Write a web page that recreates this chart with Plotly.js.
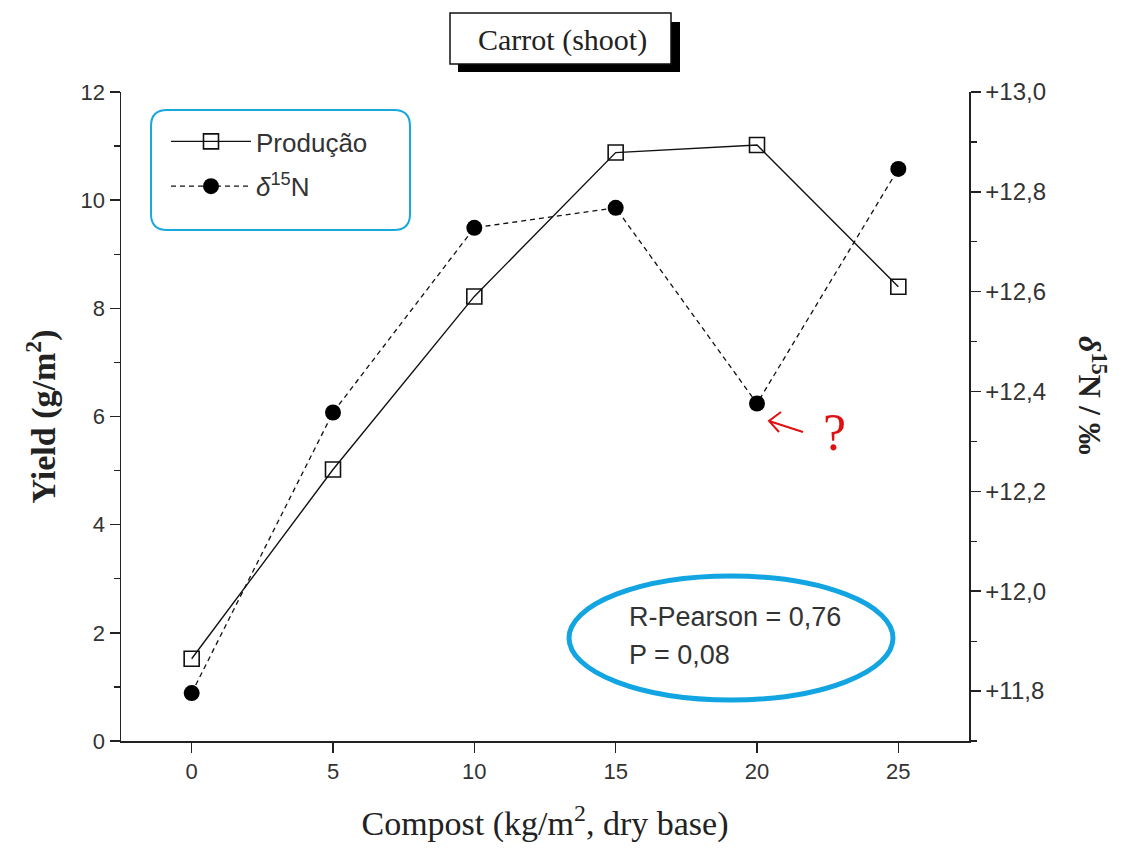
<!DOCTYPE html>
<html><head><meta charset="utf-8">
<script src="https://cdn.plot.ly/plotly-3.0.1.min.js"></script>
<style>body{margin:0;background:#fff}#c{width:1124px;height:848px}</style>
</head><body><div id="c"></div>
<script>
const compost = [0, 5, 10, 15, 20, 25];
const producao = [1.52, 5.02, 8.22, 10.88, 11.02, 8.40];
const delta15N = [11.796, 12.358, 12.728, 12.768, 12.376, 12.846];
const seriesNames = ["Produção", "<i>δ</i><sup>15</sup>N"];

// plot area in pixels
const L = 121, R = 969, T = 92, B = 741;
const px = x => (x - L) / (R - L);
const py = y => (B - y) / (B - T);

function roundRect(x0, y0, x1, y1, r) {
  const f = (x, y) => px(x) + ',' + py(y);
  return 'M' + f(x0 + r, y0) + ' L' + f(x1 - r, y0) + ' Q' + f(x1, y0) + ' ' + f(x1, y0 + r) +
    ' L' + f(x1, y1 - r) + ' Q' + f(x1, y1) + ' ' + f(x1 - r, y1) +
    ' L' + f(x0 + r, y1) + ' Q' + f(x0, y1) + ' ' + f(x0, y1 - r) +
    ' L' + f(x0, y0 + r) + ' Q' + f(x0, y0) + ' ' + f(x0 + r, y0) + ' Z';
}
function pathPx(pts) {
  return pts.map((p, i) => (p[2] ? 'M' : (i === 0 ? 'M' : 'L')) + px(p[0]) + ',' + py(p[1])).join(' ');
}

const traces = [
  {x: compost, y: producao, name: seriesNames[0], type: 'scatter', mode: 'lines+markers',
   legendgroup: 'a',
   line: {color: '#111', width: 1.4},
   marker: {symbol: 'square-open', size: 15, color: '#111', line: {width: 1.6, color: '#111'}}},
  {x: compost, y: delta15N, name: seriesNames[1], type: 'scatter', mode: 'lines+markers',
   yaxis: 'y2', legendgroup: 'b',
   line: {color: '#111', width: 1.3, dash: '5px,4px'},
   marker: {symbol: 'circle', size: 16, color: '#000'}}
];

const sans = 'Liberation Sans, Arial, sans-serif';
const serif = 'Liberation Serif, Times New Roman, serif';
const tickFont = {family: sans, size: 22, color: '#333'};

const layout = {
  width: 1124, height: 848,
  margin: {l: L, r: 1124 - R, t: T, b: 848 - B},
  paper_bgcolor: '#fff', plot_bgcolor: '#fff',
  showlegend: true,
  legend: {x: px(166), y: py(118), xanchor: 'left', yanchor: 'top', itemwidth: 80,
    bgcolor: 'rgba(0,0,0,0)', borderwidth: 0, traceorder: 'grouped', tracegroupgap: 8,
    font: {family: sans, size: 26, color: '#333'}},
  xaxis: {range: [-2.5, 27.5], tickvals: compost, ticks: 'outside', ticklen: 10, tickwidth: 1.5,
    tickcolor: '#222', showline: true, linecolor: '#222', linewidth: 1.5, showgrid: false,
    zeroline: false, tickfont: tickFont,
    title: {text: 'Compost (kg/m<sup>2</sup>, dry base)', font: {family: serif, size: 34, color: '#222'}, standoff: 28}},
  xaxis2: {overlaying: 'x', side: 'top', matches: 'x', range: [-2.5, 27.5], tickvals: compost,
    ticks: 'inside', ticklen: 8, tickwidth: 1.5, tickcolor: '#222', showline: true, linecolor: '#222',
    linewidth: 1.5, showticklabels: false, showgrid: false, zeroline: false},
  yaxis: {range: [0, 12], dtick: 2, tick0: 0, ticks: 'outside', ticklen: 10, tickwidth: 1.5,
    tickcolor: '#222', showline: true, linecolor: '#222', linewidth: 1.5, showgrid: false,
    zeroline: false, tickfont: tickFont,
    minor: {dtick: 1, ticks: 'outside', ticklen: 6, tickcolor: '#222', tickwidth: 1.2, showgrid: false},
    title: {text: '<b>Yield (g/m<sup>2</sup>)</b>', font: {family: serif, size: 34, color: '#222'}, standoff: 14}},
  yaxis2: {overlaying: 'y', side: 'right', range: [11.7, 13.0], dtick: 0.2, tick0: 0,
    tickformat: '.1f', tickprefix: '+', ticks: 'outside', ticklen: 10, tickwidth: 1.5,
    tickcolor: '#222', showline: true, linecolor: '#222', linewidth: 1.5, showgrid: false,
    zeroline: false, tickfont: {family: sans, size: 24, color: '#333'},
    minor: {dtick: 0.1, ticks: 'outside', ticklen: 6, tickcolor: '#222', tickwidth: 1.2, showgrid: false}},
  separators: ',.',
  shapes: [
    {type: 'rect', xref: 'paper', yref: 'paper', x0: px(458), x1: px(680), y0: py(72), y1: py(22),
     fillcolor: '#000', line: {width: 0}},
    {type: 'rect', xref: 'paper', yref: 'paper', x0: px(450), x1: px(671), y0: py(64), y1: py(13),
     fillcolor: '#fff', line: {width: 1.5, color: '#111'}},
    {type: 'path', xref: 'paper', yref: 'paper', path: roundRect(151, 110, 410, 230, 16),
     line: {color: '#18a8e0', width: 2}},
    {type: 'circle', xref: 'paper', yref: 'paper', x0: px(569), x1: px(893), y0: py(700), y1: py(576),
     line: {color: '#12a5e2', width: 5}},
    {type: 'path', xref: 'paper', yref: 'paper',
     path: pathPx([[803, 432], [769, 421], [781, 412, true], [769, 421], [779, 432]]),
     line: {color: '#e01010', width: 2}}
  ],
  annotations: [
    {xref: 'paper', yref: 'paper', x: px(562), y: py(40), xanchor: 'center', yanchor: 'middle',
     text: 'Carrot (shoot)', showarrow: false, font: {family: serif, size: 30, color: '#222'}},
    {xref: 'paper', yref: 'paper', x: px(1092), y: py(395), xanchor: 'center', yanchor: 'middle',
     text: '<b><i>δ</i><sup>15</sup>N / ‰</b>', textangle: 90,
     showarrow: false, font: {family: serif, size: 32, color: '#222'}},
    {xref: 'paper', yref: 'paper', x: px(627), y: py(617), xanchor: 'left', yanchor: 'middle',
     text: 'R-Pearson = 0,76', showarrow: false, font: {family: sans, size: 27, color: '#333'}},
    {xref: 'paper', yref: 'paper', x: px(627), y: py(655), xanchor: 'left', yanchor: 'middle',
     text: 'P = 0,08', showarrow: false, font: {family: sans, size: 27, color: '#333'}},
    {xref: 'paper', yref: 'paper', x: px(834), y: py(432), xanchor: 'center', yanchor: 'middle',
     text: '?', showarrow: false, font: {family: serif, size: 52, color: '#e01010'}}
  ]
};

Plotly.newPlot('c', traces, layout, {staticPlot: true});
</script></body></html>
